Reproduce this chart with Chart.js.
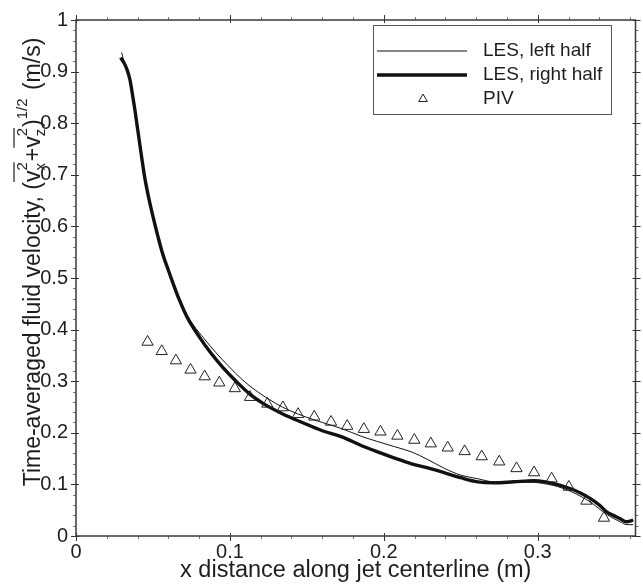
<!DOCTYPE html>
<html><head><meta charset="utf-8">
<script src="https://cdn.jsdelivr.net/npm/chart.js@4.4.1/dist/chart.umd.min.js"></script>
<style>html,body{margin:0;padding:0;background:#fff;}#wrap{width:643px;height:584px;}</style>
</head><body><div id="wrap"><canvas id="c" width="643" height="584"></canvas></div>
<script>
// ---- data ----
const leftHalfX = [0.0297,0.031,0.033,0.035,0.037,0.0383,0.0415,0.0447,0.048,0.052,0.056,0.060,0.064,0.0673,0.072,0.076,0.0834,0.091,0.0995,0.108,0.1168,0.1297,0.139,0.149,0.160,0.1727,0.1856,0.196,0.207,0.218,0.2286,0.2394,0.250,0.261,0.2716,0.2845,0.2974,0.310,0.321,0.334,0.3447,0.3533,0.358,0.362];
const leftHalfY = [0.937,0.921,0.907,0.887,0.852,0.827,0.762,0.697,0.648,0.598,0.553,0.518,0.486,0.460,0.430,0.410,0.382,0.355,0.328,0.303,0.282,0.257,0.243,0.231,0.220,0.208,0.193,0.183,0.173,0.163,0.148,0.131,0.118,0.111,0.105,0.105,0.104,0.098,0.087,0.066,0.042,0.028,0.022,0.022];
const rightHalfX = [0.029,0.031,0.033,0.035,0.037,0.0383,0.0415,0.0447,0.048,0.052,0.056,0.060,0.064,0.0673,0.072,0.0802,0.0875,0.0952,0.104,0.1125,0.122,0.134,0.147,0.160,0.1727,0.1856,0.196,0.207,0.218,0.2286,0.240,0.250,0.261,0.2716,0.2845,0.2974,0.305,0.310,0.321,0.328,0.334,0.340,0.3447,0.349,0.3533,0.3576,0.360,0.362];
const rightHalfY = [0.927,0.918,0.905,0.885,0.850,0.825,0.758,0.694,0.645,0.595,0.550,0.515,0.482,0.4565,0.425,0.3855,0.355,0.3275,0.300,0.276,0.256,0.237,0.220,0.204,0.192,0.175,0.163,0.151,0.140,0.132,0.122,0.113,0.105,0.103,0.105,0.107,0.105,0.102,0.092,0.083,0.073,0.060,0.047,0.040,0.034,0.0277,0.029,0.031];
const pivX = [0.0465,0.0557,0.0649,0.0744,0.0836,0.0931,0.1032,0.1131,0.1243,0.1344,0.1443,0.1548,0.1657,0.1762,0.1870,0.1978,0.2088,0.2198,0.2305,0.2415,0.2525,0.2636,0.2750,0.2862,0.2976,0.3090,0.3202,0.3316,0.3430];
const pivY = [0.376,0.358,0.340,0.322,0.309,0.297,0.286,0.269,0.256,0.249,0.236,0.231,0.221,0.213,0.207,0.202,0.194,0.186,0.179,0.171,0.164,0.154,0.144,0.131,0.123,0.111,0.095,0.068,0.035];
const seriesNames = ['LES, left half','LES, right half','PIV'];
const xTickValues = [0,0.1,0.2,0.3];
const yTickValues = [0,0.1,0.2,0.3,0.4,0.5,0.6,0.7,0.8,0.9,1];
const xTitle = 'x distance along jet centerline (m)';

const FONT = '"Liberation Sans", Arial, Helvetica, sans-serif';
const INK = '#1e1e1e';
const pts = (xs, ys) => xs.map((x, i) => ({x, y: ys[i]}));

function drawYTitle(ctx, bx, cy) {
  const main = '23px ' + FONT, small = '15px ' + FONT;
  ctx.save();
  ctx.translate(bx, cy);
  ctx.rotate(-Math.PI / 2);
  ctx.fillStyle = INK; ctx.strokeStyle = INK;
  ctx.textBaseline = 'alphabetic'; ctx.textAlign = 'left';
  const w = (t, f) => { ctx.font = f; return ctx.measureText(t).width; };
  const t1 = 'Time-averaged fluid velocity, (';
  const wv = w('v', main), w2 = w('2', small), wx = w('x', small), wz = w('z', small);
  const total = w(t1, main) + wv + Math.max(w2, wx) + 1 + w('+', main) + wv + Math.max(w2, wz) + 1 + w(')', main) + w('1/2', small) + 2 + w(' (m/s)', main);
  let x = -total / 2;
  const txt = (t, f, dy) => { ctx.font = f; ctx.fillText(t, x, dy); };
  txt(t1, main, 0); x += w(t1, main);
  const vgroup = (sub) => {
    const x0 = x;
    txt('v', main, 0); x += wv;
    ctx.font = small; ctx.fillText('2', x, -13); ctx.fillText(sub, x, 5);
    x += Math.max(w2, w(sub, small)) + 1;
    ctx.lineWidth = 1.2;
    ctx.beginPath(); ctx.moveTo(x0, -26); ctx.lineTo(x - 1, -26); ctx.stroke();
  };
  vgroup('x');
  txt('+', main, 0); x += w('+', main);
  vgroup('z');
  txt(')', main, 0); x += w(')', main);
  txt('1/2', small, -13); x += w('1/2', small) + 2;
  txt(' (m/s)', main, 0);
  ctx.restore();
}

const decor = {
  id: 'decor',
  afterDraw(chart) {
    const {ctx, chartArea: a, scales: {x, y}} = chart;
    ctx.save();
    ctx.lineWidth = 1;
    for (let i = 0; i * 0.02 <= x.max + 1e-9; i++) {
      const px = Math.round(x.getPixelForValue(i * 0.02)) + 0.5;
      const major = i % 5 === 0;
      ctx.strokeStyle = major ? '#333' : '#777';
      const L = major ? 5 : 3;
      ctx.beginPath();
      ctx.moveTo(px, a.bottom - (major ? 3 : 0)); ctx.lineTo(px, a.bottom + L);
      ctx.moveTo(px, a.top + (major ? 3 : 0)); ctx.lineTo(px, a.top - L);
      ctx.stroke();
    }
    for (let i = 0; i <= 50; i++) {
      const py = Math.round(y.getPixelForValue(i * 0.02)) + 0.5;
      const major = i % 5 === 0;
      ctx.strokeStyle = major ? '#333' : '#777';
      const L = major ? 5 : 3;
      ctx.beginPath();
      ctx.moveTo(a.left + (major ? 3 : 0), py); ctx.lineTo(a.left - L, py);
      ctx.moveTo(a.right - (major ? 3 : 0), py); ctx.lineTo(a.right + L, py);
      ctx.stroke();
    }
    ctx.strokeStyle = '#3a3a3a'; ctx.lineWidth = 1.5;
    ctx.strokeRect(a.left, a.top, a.right - a.left, a.bottom - a.top);
    // legend
    const lx = 373, ly = 25, lw = 238, lh = 89;
    ctx.fillStyle = '#fff'; ctx.fillRect(lx, ly, lw, lh);
    ctx.strokeStyle = '#555'; ctx.lineWidth = 1;
    ctx.strokeRect(lx + 0.5, ly + 0.5, lw, lh);
    const rows = [51, 75, 99];
    ctx.font = '19px ' + FONT; ctx.fillStyle = INK; ctx.textBaseline = 'middle'; ctx.textAlign = 'left';
    chart.data.datasets.forEach((ds, i) => {
      const ry = rows[i];
      ctx.strokeStyle = ds.borderColor;
      if (i < 2) {
        ctx.lineWidth = ds.borderWidth;
        ctx.beginPath(); ctx.moveTo(377, ry); ctx.lineTo(467, ry); ctx.stroke();
      } else {
        ctx.lineWidth = 1;
        const cx = 423, r = 5;
        ctx.beginPath();
        ctx.moveTo(cx, ry - r);
        ctx.lineTo(cx + r * 0.866, ry + r / 2);
        ctx.lineTo(cx - r * 0.866, ry + r / 2);
        ctx.closePath(); ctx.stroke();
      }
      ctx.fillText(ds.label, 483, ry);
    });
    ctx.font = '23.5px ' + FONT; ctx.textAlign = 'center'; ctx.textBaseline = 'alphabetic';
    ctx.fillText(xTitle, (a.left + a.right) / 2, 577);
    ctx.restore();
    drawYTitle(ctx, 40, 262);
  }
};

new Chart(document.getElementById('c'), {
  type: 'scatter',
  data: {
    datasets: [
      { label: seriesNames[0], data: pts(leftHalfX, leftHalfY), showLine: true, borderColor: '#111', borderWidth: 1, pointRadius: 0, cubicInterpolationMode: 'monotone', order: 2 },
      { label: seriesNames[1], data: pts(rightHalfX, rightHalfY), showLine: true, borderColor: '#111', borderWidth: 3.4, pointRadius: 0, cubicInterpolationMode: 'monotone', order: 1 },
      { label: seriesNames[2], data: pts(pivX, pivY), showLine: false, borderColor: '#222', backgroundColor: 'rgba(255,255,255,0)', borderWidth: 1, pointStyle: 'triangle', pointRadius: 6.5, order: 0 }
    ]
  },
  options: {
    responsive: false, devicePixelRatio: 1, animation: false,
    layout: { padding: { top: 19, right: 4, left: 0, bottom: 0 } },
    plugins: { legend: { display: false }, tooltip: { enabled: false } },
    scales: {
      x: {
        type: 'linear', min: 0, max: 0.3635,
        grid: { display: false, drawTicks: false }, border: { display: false },
        afterFit: s => { s.height = 48; },
        afterBuildTicks: s => { s.ticks = xTickValues.map(v => ({value: v})); },
        ticks: { padding: 4, color: INK, font: { family: FONT, size: 20 }, maxRotation: 0,
                 callback: v => String(Number(v.toFixed(2))) }
      },
      y: {
        type: 'linear', min: 0, max: 1,
        grid: { display: false, drawTicks: false }, border: { display: false },
        afterFit: s => { s.width = 76; },
        afterBuildTicks: s => { s.ticks = yTickValues.map(v => ({value: v})); },
        ticks: { padding: 8, color: INK, font: { family: FONT, size: 20 },
                 callback: v => String(Number(v.toFixed(2))) }
      }
    }
  },
  plugins: [decor]
});
</script>
</body></html>
